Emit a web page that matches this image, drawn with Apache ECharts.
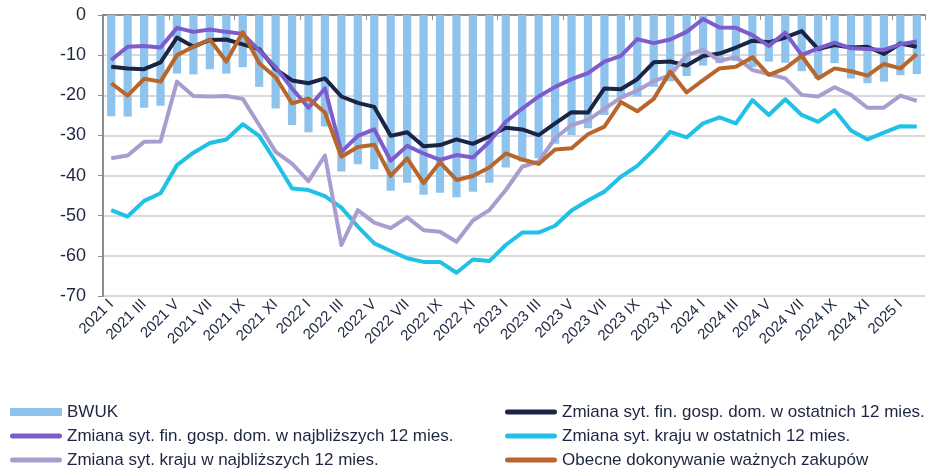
<!DOCTYPE html>
<html>
<head>
<meta charset="utf-8">
<script src="https://cdn.jsdelivr.net/npm/echarts@6/dist/echarts.min.js"></script>
<style>
  html, body { margin: 0; padding: 0; background: #fff; }
  #chart { width: 927px; height: 472px; }
</style>
</head>
<body>
<div id="chart"></div>
<script>
// miesiace 2021 I - 2025 II
var years = ['2021', '2022', '2023', '2024', '2025'];
var months = ['I', 'II', 'III', 'IV', 'V', 'VI', 'VII', 'VIII', 'IX', 'X', 'XI', 'XII'];
var categories = [];
years.forEach(function (y) {
	months.forEach(function (m) {
		if (categories.length < 50) categories.push(y + ' ' + m);
	});
});

var bwuk = [-25.2, -25.3, -23.1, -22.6, -14.6, -14.8, -13.5, -14.6, -13.0, -17.9, -23.3, -27.4, -29.2, -27.8, -39.0, -37.2, -38.4, -43.8, -41.8, -44.8, -44.3, -45.4, -44.0, -41.8, -38.0, -36.5, -35.7, -32.1, -29.9, -28.2, -24.9, -20.8, -20.3, -17.9, -16.5, -15.2, -12.6, -12.0, -11.5, -13.0, -11.6, -11.9, -14.0, -15.9, -12.0, -15.8, -17.0, -16.6, -15.0, -14.7];
var finOstatnie = [-12.9, -13.3, -13.5, -11.8, -5.6, -7.9, -6.2, -6.1, -7.3, -8.5, -13.5, -16.3, -17.0, -15.8, -20.3, -21.9, -22.9, -30.1, -29.2, -32.7, -32.4, -31.0, -32.1, -30.2, -28.1, -28.5, -29.9, -27.0, -24.2, -24.3, -18.3, -18.5, -16.0, -11.8, -11.6, -12.6, -10.2, -9.6, -8.1, -6.4, -6.8, -5.6, -4.0, -8.5, -7.5, -8.1, -7.9, -9.7, -7.1, -7.9];
var finNajbl = [-11.2, -7.9, -7.7, -8.1, -3.2, -4.2, -3.6, -4.2, -4.7, -8.8, -13.0, -18.3, -23.1, -18.3, -34.1, -30.1, -28.5, -36.3, -32.6, -34.5, -36.1, -34.9, -35.5, -31.6, -26.6, -23.3, -20.3, -17.9, -16.0, -14.5, -11.6, -10.2, -6.0, -7.0, -6.1, -4.2, -1.0, -3.1, -3.2, -5.0, -7.7, -4.4, -10.0, -8.3, -6.9, -8.3, -8.5, -8.7, -7.3, -6.6];
var krajOstatnie = [-48.6, -50.2, -46.3, -44.4, -37.4, -34.3, -31.9, -31.0, -27.2, -30.1, -36.5, -43.2, -43.6, -45.1, -48.0, -52.7, -56.9, -58.8, -60.6, -61.5, -61.5, -64.2, -60.9, -61.3, -57.3, -54.2, -54.2, -52.5, -48.7, -46.2, -44.0, -40.3, -37.6, -33.6, -29.1, -30.5, -27.0, -25.5, -27.0, -21.2, -24.9, -21.0, -24.9, -26.6, -23.7, -28.8, -31.0, -29.3, -27.7, -27.8];
var krajNajbl = [-35.7, -35.0, -31.6, -31.5, -16.6, -20.2, -20.3, -20.2, -20.9, -27.4, -34.1, -37.0, -41.4, -35.0, -57.3, -48.6, -51.7, -53.1, -50.4, -53.6, -54.0, -56.5, -51.2, -48.6, -43.6, -37.8, -36.5, -30.7, -27.4, -26.2, -23.4, -20.6, -18.8, -16.5, -15.0, -10.0, -8.7, -11.4, -10.5, -13.7, -14.7, -15.8, -19.9, -20.3, -18.0, -19.9, -23.1, -23.1, -20.1, -21.4];
var zakupy = [-17.0, -20.1, -15.9, -16.6, -10.0, -7.9, -6.1, -11.6, -4.3, -12.0, -15.5, -22.0, -20.8, -24.3, -35.3, -32.9, -32.3, -40.1, -35.7, -41.9, -36.7, -41.1, -40.1, -38.0, -34.5, -36.0, -37.1, -33.5, -33.2, -29.7, -27.8, -21.7, -24.0, -20.9, -14.1, -19.3, -16.2, -13.3, -12.9, -10.5, -14.9, -13.3, -10.2, -15.8, -13.3, -14.0, -15.1, -12.2, -13.3, -9.7];

var names = [
	'BWUK',
	'Zmiana syt. fin. gosp. dom. w ostatnich 12 mies.',
	'Zmiana syt. fin. gosp. dom. w najbliższych 12 mies.',
	'Zmiana syt. kraju w ostatnich 12 mies.',
	'Zmiana syt. kraju w najbliższych 12 mies.',
	'Obecne dokonywanie ważnych zakupów'
];

var txt = '#1d2541';
var font = "'Liberation Sans', Arial, sans-serif";
// gruba kreska z zaokraglonymi koncami w polu 52x8
var ikonaLinii = 'path://M2.5,1.5h47a2.5,2.5 0 0 1 0,5h-47a2.5,2.5 0 0 1 0,-5z M0,0h0.05v0.05h-0.05z M51.95,7.95h0.05v0.05h-0.05z';

function linia(name, data, color) {
	return {
		name: name,
		type: 'line',
		data: data,
		symbol: 'none',
		color: color,
		lineStyle: { width: 4, color: color, join: 'round' }
	};
}

function legenda(left, lista) {
	return {
		left: left, top: 400, orient: 'vertical', padding: 0,
		itemWidth: 52, itemHeight: 8, itemGap: 0,
		textStyle: { fontSize: 17, color: txt, lineHeight: 24, fontFamily: font },
		data: lista.map(function (n) {
			return { name: n, icon: n === 'BWUK' ? 'rect' : ikonaLinii };
		})
	};
}

var chart = echarts.init(document.getElementById('chart'));
var option = {
	animation: false,
	textStyle: { fontFamily: font },
	grid: { left: 103, right: 2, top: 15, bottom: 176 },
	legend: [
		legenda(10, [names[0], names[2], names[4]]),
		legenda(505, [names[1], names[3], names[5]])
	],
	xAxis: [
		{
			type: 'category',
			data: categories,
			position: 'bottom',
			axisLine: { show: false },
			axisTick: { show: false },
			axisLabel: { interval: 1, rotate: 45, fontSize: 15, color: txt, margin: 6 }
		},
		{
			type: 'category',
			data: categories,
			position: 'top',
			axisLine: { show: true, lineStyle: { color: '#8c8c8c', width: 2 } },
			axisTick: { show: true, inside: true, length: 5, lineStyle: { color: '#8c8c8c' } },
			axisLabel: { show: false }
		}
	],
	yAxis: {
		type: 'value',
		min: -70,
		max: 0,
		interval: 10,
		axisLine: { show: true, lineStyle: { color: '#8c8c8c', width: 2 } },
		axisTick: { show: true, length: 5, lineStyle: { color: '#8c8c8c' } },
		axisLabel: { fontSize: 18, color: txt, margin: 17 },
		splitLine: { lineStyle: { color: '#d9d9d9', width: 2 } }
	},
	series: [
		{
			name: names[0],
			type: 'bar',
			data: bwuk,
			barWidth: '50%',
			itemStyle: { color: '#8ec3ee' }
		},
		linia(names[1], finOstatnie, '#1b2444'),
		linia(names[2], finNajbl, '#7d5ccb'),
		linia(names[3], krajOstatnie, '#1fc1e6'),
		linia(names[4], krajNajbl, '#a99dd0'),
		linia(names[5], zakupy, '#b8662b')
	]
};
chart.setOption(option);
</script>
</body>
</html>
